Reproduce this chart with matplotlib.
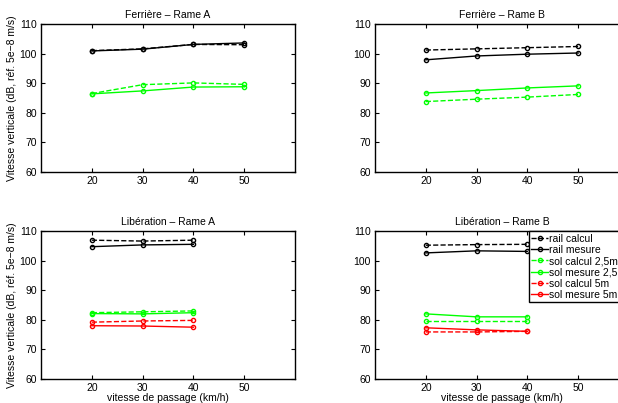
import numpy as np
import matplotlib.pyplot as plt

plt.rcParams['font.family'] = ['Liberation Sans', 'DejaVu Sans']
plt.rcParams['font.size'] = 7.5

# vitesses de passage
vit = [20, 30, 40, 50]

titles = ["Ferrière – Rame A", "Ferrière – Rame B",
          "Libération – Rame A", "Libération – Rame B"]

labels = ["rail calcul", "rail mesure", "sol calcul 2,5m",
          "sol mesure 2,5m", "sol calcul 5m", "sol mesure 5m"]

# Ferrière - Rame A
fa_rail_calc = [101.0, 101.6, 103.1, 103.0]
fa_rail_mes = [100.9, 101.5, 103.1, 103.6]
fa_sol25_calc = [86.5, 89.5, 90.1, 89.6]
fa_sol25_mes = [86.4, 87.4, 88.7, 88.8]

# Ferrière - Rame B
fb_rail_calc = [101.2, 101.6, 102.0, 102.4]
fb_rail_mes = [97.9, 99.2, 99.8, 100.2]
fb_sol25_calc = [83.8, 84.6, 85.3, 86.2]
fb_sol25_mes = [86.7, 87.5, 88.4, 89.1]

# Libération - Rame A
la_rail_calc = [106.9, 106.6, 106.9]
la_rail_mes = [104.7, 105.3, 105.5]
la_sol25_calc = [82.4, 82.7, 83.0]
la_sol25_mes = [82.1, 82.0, 82.4]
la_sol5_calc = [79.2, 79.6, 79.8]
la_sol5_mes = [78.0, 77.9, 77.5]

# Libération - Rame B
lb_rail_calc = [105.2, 105.4, 105.5]
lb_rail_mes = [102.6, 103.3, 103.1]
lb_sol25_calc = [79.6, 79.6, 79.6]
lb_sol25_mes = [82.0, 81.0, 81.0]
lb_sol5_calc = [75.9, 75.9, 76.1]
lb_sol5_mes = [77.3, 76.6, 76.1]

styles = [('k', '--'), ('k', '-'), ((0, 1, 0), '--'), ((0, 1, 0), '-'),
          ((1, 0, 0), '--'), ((1, 0, 0), '-')]

data = [
    [fa_rail_calc, fa_rail_mes, fa_sol25_calc, fa_sol25_mes],
    [fb_rail_calc, fb_rail_mes, fb_sol25_calc, fb_sol25_mes],
    [la_rail_calc, la_rail_mes, la_sol25_calc, la_sol25_mes, la_sol5_calc, la_sol5_mes],
    [lb_rail_calc, lb_rail_mes, lb_sol25_calc, lb_sol25_mes, lb_sol5_calc, lb_sol5_mes],
]

W, H = 618., 403.
# axes boxes in pixels: left, top, right, bottom
boxes = [(41, 24, 295, 172), (375, 24, 629, 172),
         (41, 231, 295, 379), (375, 231, 629, 379)]

fig = plt.figure(figsize=(6.18, 4.03), dpi=100)

for i in range(4):
    l, t, r, b = boxes[i]
    ax = fig.add_axes([l/W, 1-b/H, (r-l)/W, (b-t)/H])
    for j, y in enumerate(data[i]):
        c, ls = styles[j]
        ax.plot(vit[:len(y)], y, color=c, linestyle=ls, marker='o',
                markersize=3, markerfacecolor='none', markeredgewidth=1,
                linewidth=1, label=labels[j])
    ax.set_xlim(10, 60)
    ax.set_ylim(60, 110)
    ax.set_xticks(vit)
    ax.set_yticks(np.arange(60, 111, 10))
    ax.tick_params(direction='in', top=True, right=True, length=3, pad=3)
    ax.set_title(titles[i], fontsize=7.5, pad=4)
    for s in ax.spines.values():
        s.set_linewidth(1)
    if i % 2 == 0:
        ax.set_ylabel("Vitesse verticale (dB, réf. 5e−8 m/s)", labelpad=2)
    if i >= 2:
        ax.set_xlabel("vitesse de passage (km/h)", labelpad=0)
    if i == 3:
        leg = ax.legend(loc='upper right', fancybox=False, edgecolor='k',
                        framealpha=1, handlelength=1.6, handletextpad=0.15,
                        borderpad=0.25, labelspacing=0.12, borderaxespad=0.0,
                        fontsize=7.5)
        leg.get_frame().set_linewidth(1)

fig.savefig("out.png", dpi=100)
